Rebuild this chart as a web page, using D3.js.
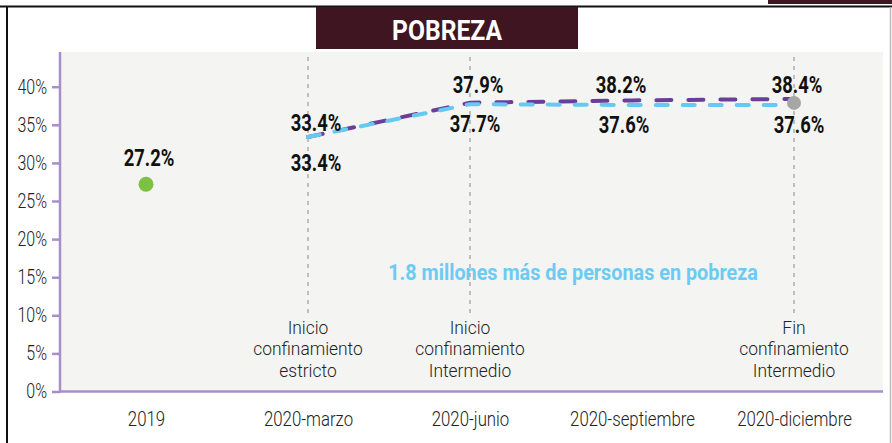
<!DOCTYPE html>
<html>
<head>
<meta charset="utf-8">
<script src="https://cdn.jsdelivr.net/npm/d3@7"></script>
<style>
  html, body { margin: 0; padding: 0; background: #fff; }
  svg { display: block; }
  text { font-family: Roboto, "DejaVu Sans Condensed", sans-serif; }
</style>
</head>
<body>
<div id="chart"></div>
<script>
// periodos del eje x
const periodos = ['2019', '2020-marzo', '2020-junio', '2020-septiembre', '2020-diciembre'];
// ticks del eje y (%)
const yTicks = [0, 5, 10, 15, 20, 25, 30, 35, 40];

// punto 2019
const valor2019 = 27.2;

// serie morada (valor superior)
const periodosSerie = ['2020-marzo', '2020-junio', '2020-septiembre', '2020-diciembre'];
const serieMorada = [33.4, 37.9, 38.2, 38.4];
// serie celeste (valor inferior)
const serieCeleste = [33.4, 37.7, 37.6, 37.6];

// eventos marcados con linea vertical
const eventos = [
  { periodo: '2020-marzo', texto: ['Inicio', 'confinamiento', 'estricto'] },
  { periodo: '2020-junio', texto: ['Inicio', 'confinamiento', 'Intermedio'] },
  { periodo: '2020-diciembre', texto: ['Fin', 'confinamiento', 'Intermedio'] }
];

const titulo = 'POBREZA';
const nota = '1.8 millones más de personas en pobreza';

const width = 892, height = 443;
const plot = { left: 60, right: 883, top: 52, bottom: 391 };

// comprime el texto horizontalmente (fuente condensada)
function condensar(sel, k) {
  sel.each(function() {
    const w = this.getComputedTextLength();
    d3.select(this)
      .attr('textLength', w * k)
      .attr('lengthAdjust', 'spacingAndGlyphs');
  });
}

const svg = d3.select('#chart').append('svg')
  .attr('width', width)
  .attr('height', height);

// marco
svg.append('rect').attr('x', 768).attr('y', 0).attr('width', 124).attr('height', 4).attr('fill', '#3e1520');
svg.append('line').attr('x1', 0).attr('x2', width).attr('y1', 6.5).attr('y2', 6.5)
  .attr('stroke', '#111').attr('stroke-width', 2);
svg.append('line').attr('x1', 7).attr('x2', 7).attr('y1', 6).attr('y2', height)
  .attr('stroke', '#111').attr('stroke-width', 2);
svg.append('line').attr('x1', 890.5).attr('x2', 890.5).attr('y1', 7).attr('y2', height)
  .attr('stroke', '#bbb').attr('stroke-width', 1.5);

// fondo del area de grafico
svg.append('rect')
  .attr('x', plot.left).attr('y', plot.top)
  .attr('width', plot.right - plot.left).attr('height', plot.bottom - plot.top)
  .attr('fill', '#f4f4f2');

// titulo
svg.append('rect').attr('x', 316).attr('y', 7).attr('width', 262).attr('height', 42).attr('fill', '#3e1520');
svg.append('text')
  .attr('x', 447).attr('y', 39.5)
  .attr('text-anchor', 'middle')
  .attr('fill', '#fff')
  .style('font-size', '28px')
  .style('font-weight', 'bold')
  .text(titulo)
  .call(condensar, 0.88);

// escalas
const x = d3.scalePoint().domain(periodos).range([146, 794]);
const y = d3.scaleLinear().domain([0, 40]).range([391.5, 86.7]);

// lineas verticales de eventos
eventos.forEach(e => {
  svg.append('line')
    .attr('x1', x(e.periodo)).attr('x2', x(e.periodo))
    .attr('y1', 57).attr('y2', 314)
    .attr('stroke', '#8a8a8a')
    .attr('stroke-width', 1)
    .attr('stroke-dasharray', '4,5');

  e.texto.forEach((linea, i) => {
    svg.append('text')
      .attr('x', x(e.periodo))
      .attr('y', 334 + i * 21.3)
      .attr('text-anchor', 'middle')
      .attr('fill', '#222')
      .style('font-size', '18.5px')
      .style('font-weight', 300)
      .text(linea)
      .call(condensar, 0.94);
  });
});

// eje y
const yAxis = svg.append('g')
  .attr('transform', `translate(${plot.left}, 0)`)
  .call(d3.axisLeft(y).tickValues(yTicks).tickSize(8).tickPadding(5).tickFormat(d => d + '%'));
yAxis.select('.domain').remove();
yAxis.selectAll('.tick line').attr('stroke', '#a88fc8').attr('stroke-width', 2.5);
yAxis.selectAll('.tick text')
  .attr('fill', '#222')
  .style('font-size', '20px')
  .style('font-weight', 300)
  .style('font-family', 'Roboto, sans-serif')
  .call(condensar, 0.8);

// lineas de ejes
svg.append('line').attr('x1', plot.left).attr('x2', plot.left).attr('y1', plot.top).attr('y2', 392.5)
  .attr('stroke', '#a88fc8').attr('stroke-width', 2.5);
svg.append('line').attr('x1', plot.left).attr('x2', plot.right).attr('y1', 391.5).attr('y2', 391.5)
  .attr('stroke', '#a88fc8').attr('stroke-width', 2.5);

// eje x (solo etiquetas)
const xAxis = svg.append('g')
  .attr('transform', 'translate(0, 391.5)')
  .call(d3.axisBottom(x).tickSize(0).tickPadding(20));
xAxis.select('.domain').remove();
xAxis.selectAll('.tick text')
  .attr('fill', '#222')
  .style('font-size', '20px')
  .style('font-weight', 300)
  .style('font-family', 'Roboto, sans-serif')
  .call(condensar, 0.84);

// series
const line = d3.line()
  .x(d => x(d.periodo))
  .y(d => y(d.valor));

const datosMorada = periodosSerie.map((p, i) => ({ periodo: p, valor: serieMorada[i] }));
const datosCeleste = periodosSerie.map((p, i) => ({ periodo: p, valor: serieCeleste[i] }));

svg.append('path')
  .datum(datosMorada)
  .attr('d', line)
  .attr('fill', 'none')
  .attr('stroke', '#6b3f98')
  .attr('stroke-width', 4)
  .attr('stroke-linecap', 'round')
  .attr('stroke-dasharray', '15,17');

svg.append('path')
  .datum(datosCeleste)
  .attr('d', line)
  .attr('fill', 'none')
  .attr('stroke', '#66c9f2')
  .attr('stroke-width', 4)
  .attr('stroke-linecap', 'round')
  .attr('stroke-dasharray', '12,15');

// puntos
svg.append('circle')
  .attr('cx', x('2019')).attr('cy', y(valor2019)).attr('r', 7.5)
  .attr('fill', '#7cc142');
svg.append('circle')
  .attr('cx', x('2020-diciembre')).attr('cy', y(serieMorada[3]) + 4).attr('r', 7)
  .attr('fill', '#a6a6a6');

// etiquetas de valores
function etiqueta(px, py, txt) {
  svg.append('text')
    .attr('x', px).attr('y', py)
    .attr('text-anchor', 'middle')
    .attr('fill', '#111')
    .style('font-size', '23px')
    .style('font-weight', 'bold')
    .text(txt)
    .call(condensar, 0.8);
}
const fmt = v => v.toFixed(1) + '%';
etiqueta(x('2019') + 3, y(valor2019) - 18, fmt(valor2019));
const offMoradaX = [8, 8, -11, 3];
const offCelesteX = [8, 5, -8, 5];
periodosSerie.forEach((p, i) => {
  etiqueta(x(p) + offMoradaX[i], i === 0 ? y(serieMorada[i]) - 6 : 92.7, fmt(serieMorada[i]));
  etiqueta(x(p) + offCelesteX[i], i === 0 ? 171 : y(serieCeleste[i]) + 28, fmt(serieCeleste[i]));
});

// nota
svg.append('text')
  .attr('x', 573).attr('y', 280)
  .attr('text-anchor', 'middle')
  .attr('fill', '#6dcbf3')
  .style('font-size', '22px')
  .style('font-weight', 'bold')
  .text(nota)
  .call(condensar, 0.9);
</script>
</body>
</html>
